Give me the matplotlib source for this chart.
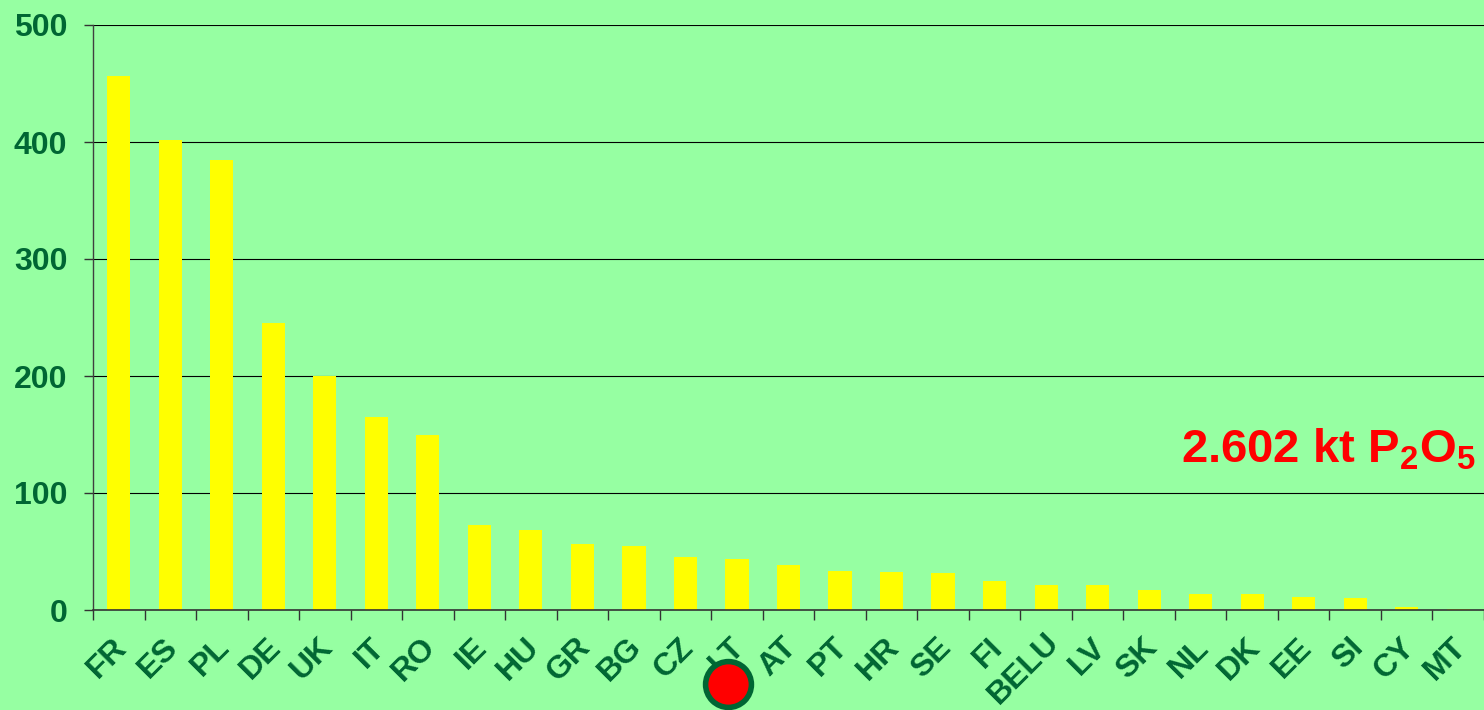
import matplotlib
matplotlib.use("Agg")
import matplotlib.pyplot as plt
import matplotlib.transforms as mtransforms

countries = ["FR", "ES", "PL", "DE", "UK", "IT", "RO", "IE", "HU", "GR", "BG", "CZ", "LT",
             "AT", "PT", "HR", "SE", "FI", "BELU", "LV", "SK", "NL", "DK", "EE", "SI", "CY", "MT"]
values = [456, 402, 385, 245, 200, 165, 150, 73, 68, 56, 55, 45, 44,
          38.5, 33, 32.5, 31.5, 24.5, 21.5, 21.5, 17.5, 14, 13.5, 11.5, 10.5, 2.3, 0.6]
yticks = [0, 100, 200, 300, 400, 500]
highlight = "LT"
total_label = r"2.602 kt P$_2$O$_5$"

bg = "#96FFA2"
dark_green = "#006633"

plt.rcParams["font.family"] = ["Liberation Sans", "DejaVu Sans"]
plt.rcParams["font.weight"] = "bold"
plt.rcParams["mathtext.fontset"] = "custom"
plt.rcParams["mathtext.rm"] = "Liberation Sans:bold"
plt.rcParams["mathtext.it"] = "Liberation Sans:bold"
plt.rcParams["mathtext.bf"] = "Liberation Sans:bold"

fig = plt.figure(figsize=(14.84, 7.10), dpi=100, facecolor=bg)
ax = fig.add_axes([93 / 1484, 100 / 710, 1391 / 1484, 585 / 710], facecolor=bg)

x = list(range(len(countries)))
ax.bar(x, values, width=0.45, color="#FFFF00", zorder=2)

ax.set_ylim(0, 500)
ax.set_xlim(-0.5, -0.5 + 1391 / 52)
ax.set_yticks(yticks)
ax.set_yticklabels([str(v) for v in yticks], fontsize=23, fontweight="bold", color=dark_green)
ax.yaxis.grid(True, color="black", linewidth=0.8)
ax.set_axisbelow(True)

ax.set_xticks(x)
ax.set_xticklabels(countries, fontsize=23, fontweight="bold", color=dark_green,
                   rotation=45, ha="right", va="top", rotation_mode="anchor")
ax.set_xticks([i - 0.5 for i in range(len(countries) + 1)], minor=True)
ax.tick_params(axis="x", which="major", length=0, pad=16)
ax.tick_params(axis="x", which="minor", length=7, width=1, color="#333333", direction="out")
ax.tick_params(axis="y", length=6.5, width=1, color="#333333", pad=12)

# nudge labels left; the long BELU label a bit up so it stays inside the figure
for lbl in ax.get_xticklabels():
    dx, dy = -7, 0
    if lbl.get_text() == "BELU":
        dx, dy = -2, 5
    offset = mtransforms.ScaledTranslation(dx / 100, dy / 100, fig.dpi_scale_trans)
    lbl.set_transform(lbl.get_transform() + offset)

for side in ["top", "right"]:
    ax.spines[side].set_visible(False)
ax.spines["left"].set_color("#404040")
ax.spines["bottom"].set_color("#333333")
ax.spines["left"].set_linewidth(1)
ax.spines["bottom"].set_linewidth(1.2)

# red marker over the highlighted country label
hi = countries.index(highlight)
ax.plot([hi - 0.17], [-63], marker="o", markersize=33, markerfacecolor="#FF0000",
        markeredgecolor=dark_green, markeredgewidth=4, clip_on=False, zorder=10)

fig.text(1476 / 1484, (710 - 462) / 710, total_label, fontsize=34, color="#FF0000",
         fontweight="bold", ha="right", va="baseline")

fig.savefig("out.png", dpi=100, facecolor=bg)
